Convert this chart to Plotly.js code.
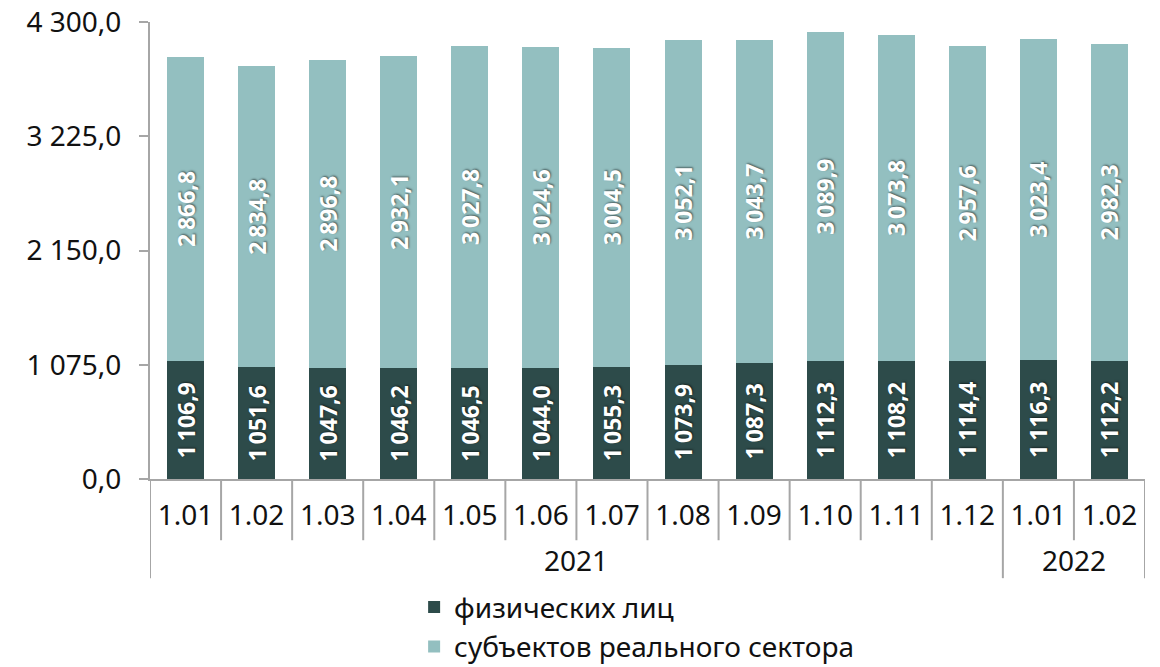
<!DOCTYPE html>
<html><head><meta charset="utf-8">
<script src="https://cdn.plot.ly/plotly-3.0.1.min.js"></script>
<style>html,body{margin:0;padding:0;background:#fff}#chart{width:1160px;height:667px}</style>
</head><body><div id="chart"></div>
<script>
const months = ['1.01','1.02','1.03','1.04','1.05','1.06','1.07','1.08','1.09','1.10','1.11','1.12','1.01','1.02'];
const years = ['2021','2021','2021','2021','2021','2021','2021','2021','2021','2021','2021','2021','2022','2022'];
const individuals = [1106.9,1051.6,1047.6,1046.2,1046.5,1044.0,1055.3,1073.9,1087.3,1112.3,1108.2,1114.4,1116.3,1112.2];
const realSector = [2866.8,2834.8,2896.8,2932.1,3027.8,3024.6,3004.5,3052.1,3043.7,3089.9,3073.8,2957.6,3023.4,2982.3];
const yTicks = [0,1075,2150,3225,4300];
const seriesNames = ['физических лиц','субъектов реального сектора'];

function fmt(v){
  const s = v.toFixed(1).split('.');
  return s[0].replace(/\B(?=(\d{3})+(?!\d))/g, '\u2009') + ',' + s[1];
}
function fmtTick(v){
  const s = v.toFixed(1).split('.');
  return s[0].replace(/\B(?=(\d{3})+(?!\d))/g, ' ') + ',' + s[1];
}

const idx = months.map((_, i) => i);
const font = 'Noto Sans, Open Sans, sans-serif';
const gray = '#a6a6a6';
const labelFont = {family:'Open Sans, sans-serif', size:23, color:'#ffffff', weight:700, shadow:'1px 1px 2px rgba(0,0,0,0.5)'};

const traces = [
  {type:'bar', name:seriesNames[0], x:idx, y:individuals,
   marker:{color:'#2d4b4a'}, text:individuals.map(fmt), textposition:'inside',
   insidetextanchor:'middle', textangle:-90, textfont:labelFont, constraintext:'none', hoverinfo:'y'},
  {type:'bar', name:seriesNames[1], x:idx, y:realSector,
   marker:{color:'#93bfc0'}, text:realSector.map(fmt), textposition:'inside',
   insidetextanchor:'middle', textangle:-90, textfont:labelFont, constraintext:'none', hoverinfo:'y'}
];

// category boundaries and year groups (decoration built from the data arrays)
const shapes = [];
const annotations = [];
const innerDrop = -0.134, outerDrop = -0.217;
for (let i = 0; i <= months.length; i++) {
  const isGroupEdge = (i === 0 || i === months.length || years[i] !== years[i-1]);
  shapes.push({type:'line', xref:'x', yref:'paper', x0:i-0.5, x1:i-0.5, y0:0, y1:isGroupEdge?outerDrop:innerDrop,
               line:{color:gray, width:2}});
}
const groups = [...new Set(years)];
groups.forEach(g => {
  const ids = idx.filter(i => years[i] === g);
  const c = (ids[0] + ids[ids.length-1]) / 2;
  annotations.push({xref:'x', yref:'paper', x:c, y:-0.177, text:g, showarrow:false,
                    xanchor:'center', yanchor:'middle', font:{family:font, size:28, color:'#111'}});
});

const layout = {
  width:1160, height:667,
  margin:{l:150, r:15, t:22, b:188, autoexpand:false},
  barmode:'stack', bargap:0.48,
  paper_bgcolor:'#fff', plot_bgcolor:'#fff',
  font:{family:font, size:28, color:'#111'},
  showlegend:true,
  legend:{orientation:'v', xref:'container', yref:'container', x:0.357, xanchor:'left', y:0.127, yanchor:'top',
          font:{family:font, size:28, color:'#111'}, tracegroupgap:0, itemwidth:30, traceorder:'normal'},
  xaxis:{range:[-0.5, months.length-0.5], tickvals:idx, ticktext:months, automargin:false,
         showline:true, linecolor:gray, linewidth:2, ticks:'outside', ticklen:10, tickcolor:'rgba(0,0,0,0)',
         tickfont:{family:font, size:28, color:'#111'}, showgrid:false, zeroline:false, fixedrange:true},
  yaxis:{range:[0,4300], tickvals:yTicks, ticktext:yTicks.map(fmtTick), automargin:false,
         showline:true, linecolor:gray, linewidth:2, ticks:'outside', ticklen:9, ticklabelstandoff:12,
         tickcolor:gray, tickwidth:2, showgrid:false, zeroline:false,
         tickfont:{family:font, size:28, color:'#111'}},
  shapes:shapes, annotations:annotations
};
Plotly.newPlot('chart', traces, layout, {displayModeBar:false, staticPlot:true});
</script></body></html>
